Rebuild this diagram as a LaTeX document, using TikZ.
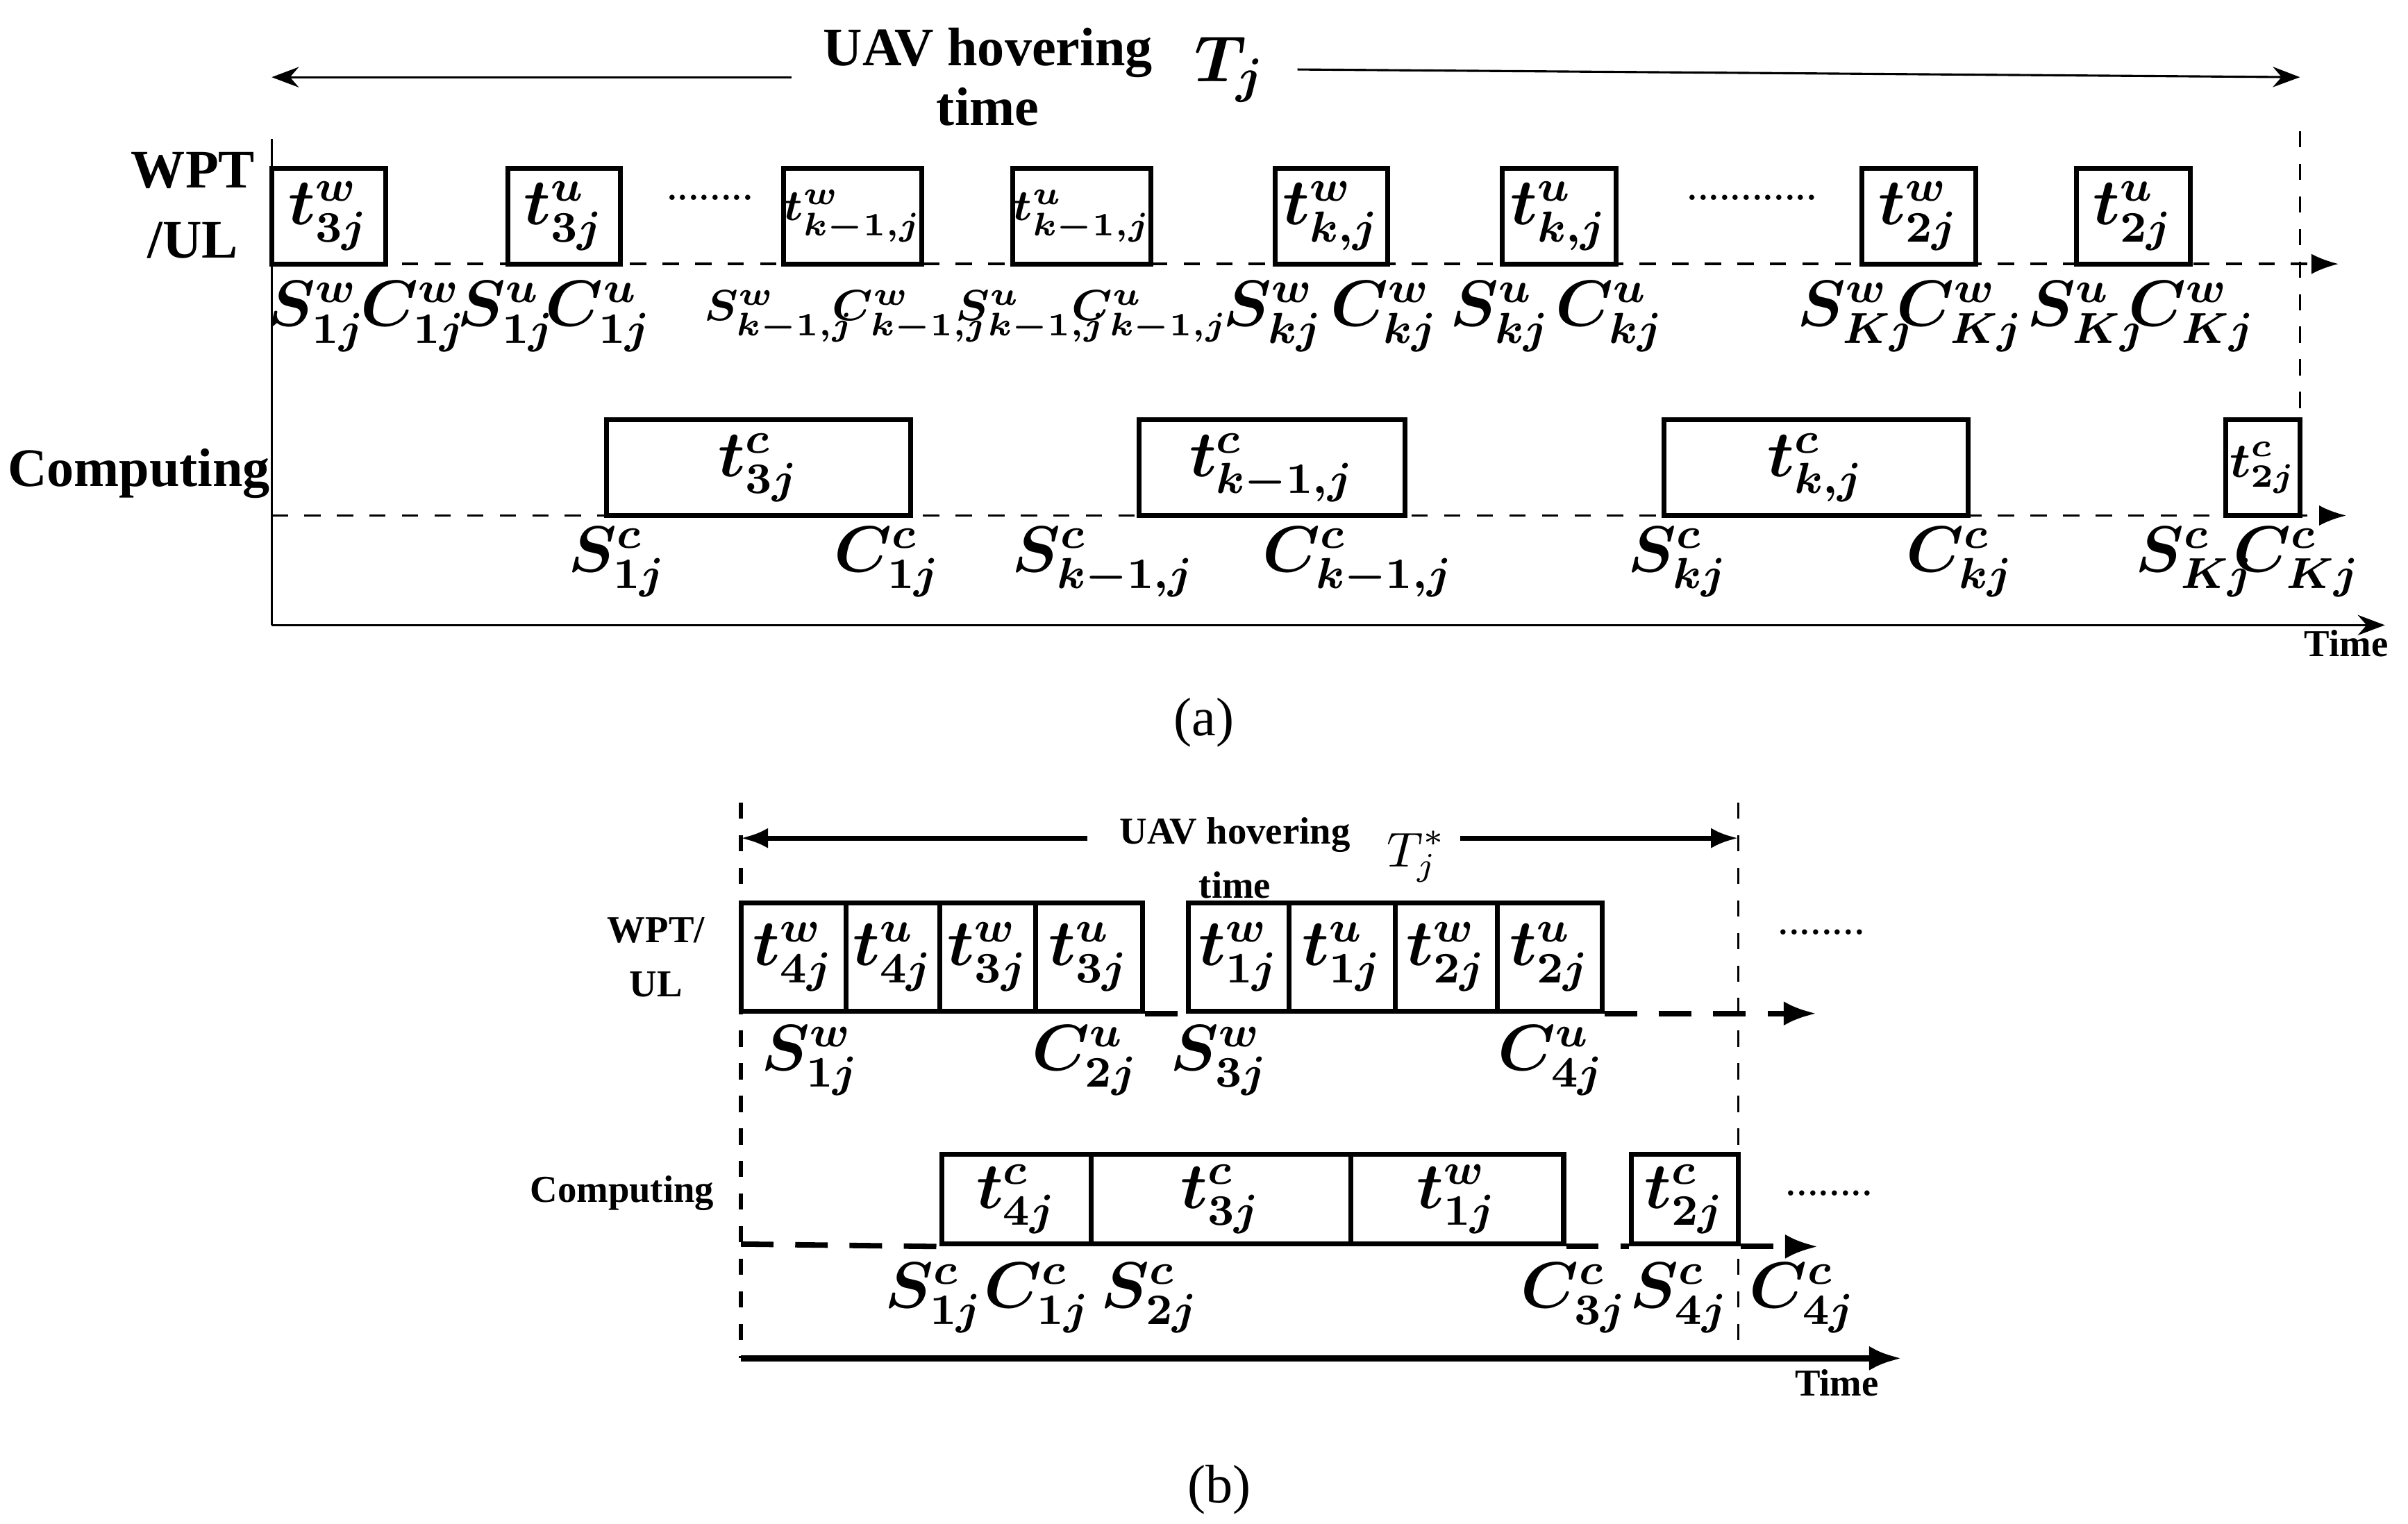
\documentclass[tikz,border=0pt]{standalone}
\usepackage{amsmath,bm}
\usepackage{fontspec}
\setmainfont{Liberation Serif}
\usetikzlibrary{arrows.meta, positioning}
\tikzset{
  slot/.style={draw, line width=0.9pt, inner sep=0pt},
  lab/.style={font=\fontsize{11.5}{13}\selectfont, inner sep=0pt},
  slab/.style={font=\fontsize{8}{10}\selectfont, inner sep=0pt},
  txt/.style={font=\fontsize{10}{11}\selectfont\bfseries, align=center, inner sep=0pt},
  stxt/.style={font=\fontsize{7}{8}\selectfont\bfseries, align=center, inner sep=0pt},
  dline/.style={dashed, line width=0.5pt, -{Latex[length=5pt]}},
  bdash/.style={dash pattern=on 6pt off 4pt, line width=1pt, -{Latex[length=6pt]}},
}
\newcommand{\tl}[3]{$\bm{#1^{#2}_{#3}}$}
\begin{document}
\begin{tikzpicture}[x=0.01cm, y=-0.01cm]
    \useasboundingbox (0,0) rectangle (1560,987);
    % ---------- (a) ----------
    \coordinate (aL) at (176,50);
    \coordinate (aR) at (1490,50);
    \node[txt] (uava) at (640,50) {UAV hovering\\time};
    \node[font=\fontsize{13}{15}\selectfont, inner sep=0pt] (Tja) at (797,45) {$\bm{T_j}$};
    \draw[-{Stealth[length=5pt]}, thin] (uava.west) ++(-20,0) coordinate (a1) -- (aL);
    \draw[-{Stealth[length=5pt]}, thin] (Tja.east) ++(20,0) coordinate (a2) -- (aR);
    \coordinate (o) at (176,90);
    \coordinate (ob) at (176,405);
    \coordinate (tend) at (1545,405);
    \draw[thin] (o) -- (ob);
    \draw[thin, -{Stealth[length=5pt]}] (ob) -- (tend);
    \node[stxt] (timea) at (1520,417) {Time};
    \coordinate (ea) at (1490,85);
    \coordinate (eb) at (1490,335);
    \draw[dashed, thin] (ea) -- (eb);
    \node[txt] (wpta) at (125,133) {WPT\\[2pt]/UL};
    \node[txt] (compa) at (90,307) {Computing};
    % WPT/UL row
    \foreach \xa/\xb/\s/\sub [count=\i] in {176/250/w/{3j}, 329/402/u/{3j}, 826/899/w/{k,j}, 973/1047/u/{k,j}, 1206/1280/w/{2j}, 1345/1419/u/{2j}}
      \node[slot, lab, minimum width=(\xb-\xa)*0.01cm, minimum height=0.62cm] (wa\i) at ({(\xa+\xb)/2},140) {\tl{t}{\s}{\sub}};
    \node[slot, slab, minimum width=0.73cm, minimum height=0.62cm] (wk1) at (552.5,140) {$\bm{t^{w}_{k-1,j}}$};
    \node[slot, slab, minimum width=0.74cm, minimum height=0.62cm] (wk2) at (701,140) {$\bm{t^{u}_{k-1,j}}$};
    \coordinate (wl) at (176,171);
    \coordinate (wr) at (1515,171);
    \draw[dline] (wl) -- (wr);
    \node[slab] (dota1) at (460,128) {........};
    \node[slab] (dota2) at (1135,128) {............};
    \foreach \x/\n/\s/\sub in {205/S/w/{1j}, 268/C/w/{1j}, 328/S/u/{1j}, 388/C/u/{1j}, 825/S/w/{kj}, 897/C/w/{kj}, 972/S/u/{kj}, 1043/C/u/{kj}, 1203/S/w/{Kj}, 1270/C/w/{Kj}, 1352/S/u/{Kj}, 1420/C/w/{Kj}}
      \node[lab] at (\x,205) {\tl{\n}{\s}{\sub}};
    \foreach \x/\n/\s in {505/S/w, 590/C/w, 668/S/u, 745/C/u}
      \node[font=\fontsize{8.5}{10}\selectfont, inner sep=0pt] at (\x,205) {\tl{\n}{\s}{k-1,j}};
    % Computing row
    \foreach \xa/\xb/\sub [count=\i] in {393/590/{3j}, 738/910/{k-1,j}, 1078/1275/{k,j}}
      \node[slot, lab, minimum width=(\xb-\xa)*0.01cm, minimum height=0.62cm] (ca\i) at ({(\xa+\xb)/2},303) {\tl{t}{c}{\sub}};
    \node[slot, font=\fontsize{9}{11}\selectfont, minimum width=0.48cm, minimum height=0.62cm, inner sep=0pt] (ca4) at (1466,303) {\tl{t}{c}{2j}};
    \coordinate (cl) at (176,334);
    \coordinate (cr) at (1520,334);
    \draw[dline] (cl) -- (cr);
    \foreach \x/\n/\sub in {400/S/{1j}, 575/C/{1j}, 715/S/{k-1,j}, 880/C/{k-1,j}, 1087/S/{kj}, 1270/C/{kj}, 1422/S/{Kj}, 1488/C/{Kj}}
      \node[lab] at (\x,364) {\tl{\n}{c}{\sub}};
    \node[font=\fontsize{10}{12}\selectfont] (capa) at (780,468) {(a)};
    % ---------- (b) ----------
    \coordinate (bt) at (480,520);
    \coordinate (bb) at (480,880);
    \coordinate (bend) at (1232,880);
    \coordinate (bet) at (1126,520);
    \coordinate (beb) at (1126,880);
    \draw[dashed, line width=0.8pt] (bt) -- (bb);
    \draw[dashed, thin] (bet) -- (beb);
    \draw[line width=1.2pt, -{Latex[length=6pt]}] (bb) -- (bend);
    \node[stxt] (timeb) at (1190,896) {Time};
    \node[stxt] (uavb) at (800,556) {UAV hovering\\[2pt]time};
    \node[font=\fontsize{9}{11}\selectfont, inner sep=0pt] (Tjb) at (918,555) {$T_j^{*}$};
    \coordinate (bL) at (480,543);
    \coordinate (bR) at (1126,543);
    \draw[line width=0.9pt, -{Latex[length=5pt]}] (uavb.west |- bL) ++(-20,0) -- (bL);
    \draw[line width=0.9pt, -{Latex[length=5pt]}] (Tjb.east |- bR) ++(8,0) -- (bR);
    \node[stxt] (wptb) at (425,620) {WPT/\\[2pt]UL};
    \node[stxt] (compb) at (403,773) {Computing};
    \foreach \xa/\xb/\s/\sub [count=\i] in {480/548/w/{4j}, 548/609/u/{4j}, 609/671/w/{3j}, 671/740/u/{3j}, 770/835/w/{1j}, 835/904/u/{1j}, 904/970/w/{2j}, 970/1038/u/{2j}}
      \node[slot, lab, minimum width=(\xb-\xa)*0.01cm, minimum height=0.70cm] (wb\i) at ({(\xa+\xb)/2},620) {\tl{t}{\s}{\sub}};
    \draw[bdash, -] (wb4.south east) -- (wb5.south west);
    \draw[bdash] (wb8.south east) -- ++(137,0) coordinate (wbr);
    \node[slab] (dotb1) at (1180,604) {........};
    \foreach \x/\n/\s/\sub in {525/S/w/{1j}, 703/C/u/{2j}, 790/S/w/{3j}, 1005/C/u/{4j}}
      \node[lab] at (\x,687) {\tl{\n}{\s}{\sub}};
    \foreach \xa/\xb/\s/\sub [count=\i] in {610/707/c/{4j}, 707/875/c/{3j}, 875/1013/w/{1j}, 1057/1126/c/{2j}}
      \node[slot, lab, minimum width=(\xb-\xa)*0.01cm, minimum height=0.58cm] (cb\i) at ({(\xa+\xb)/2},777) {\tl{t}{\s}{\sub}};
    \coordinate (cbl) at (480,806);
    \draw[bdash, -] (cbl) -- (cb1.south west);
    \draw[bdash, -] (cb3.south east) -- (cb4.south west);
    \draw[bdash] (cb4.south east) -- ++(50,0) coordinate (cbr);
    \node[slab] (dotb2) at (1185,773) {........};
    \foreach \x/\n/\sub in {605/S/{1j}, 672/C/{1j}, 745/S/{2j}, 1020/C/{3j}, 1088/S/{4j}, 1168/C/{4j}}
      \node[lab] at (\x,841) {\tl{\n}{c}{\sub}};
    \node[font=\fontsize{10}{12}\selectfont] (capb) at (790,965) {(b)};
\end{tikzpicture}
\end{document}
